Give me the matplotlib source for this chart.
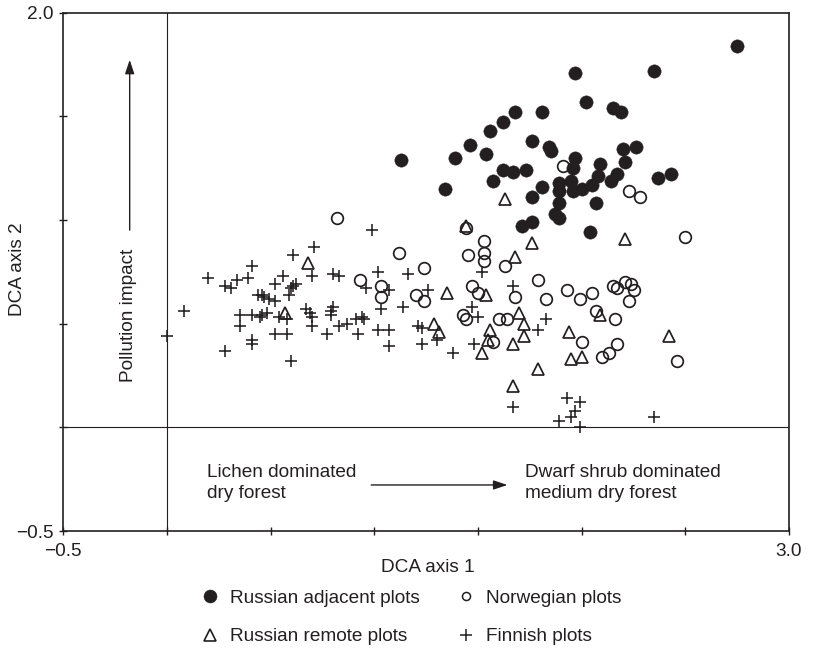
import matplotlib
matplotlib.use("Agg")
import matplotlib.pyplot as plt
from matplotlib.lines import Line2D

plt.rcParams['font.family'] = ['Liberation Sans', 'DejaVu Sans']
plt.rcParams['font.size'] = 13.7

# ---------------- data (DCA scores) ----------------
adj_x = [2.75, 1.97, 2.35, 2.02, 2.15, 2.19, 1.68, 1.81, 1.62, 1.56,
         1.46, 1.76, 1.84, 1.85, 1.54, 1.39, 1.13, 2.20, 2.26, 2.21,
         2.09, 1.97, 1.96, 1.62, 1.67, 1.73, 1.57, 1.34, 1.81, 1.89,
         1.89, 1.95, 1.96, 2.00, 2.05, 2.08, 2.14, 2.17, 2.37, 2.43,
         1.76, 1.89, 2.07, 1.87, 1.89, 1.76, 1.71, 2.04]
adj_y = [1.84, 1.71, 1.72, 1.57, 1.54, 1.52, 1.52, 1.52, 1.47, 1.43,
         1.36, 1.38, 1.35, 1.33, 1.32, 1.30, 1.29, 1.34, 1.35, 1.28,
         1.27, 1.30, 1.25, 1.24, 1.23, 1.24, 1.19, 1.15, 1.16, 1.18,
         1.14, 1.19, 1.14, 1.15, 1.17, 1.21, 1.19, 1.22, 1.20, 1.22,
         1.11, 1.08, 1.08, 1.03, 1.01, 0.99, 0.97, 0.94]

nor_x = [0.82, 1.12, 0.93, 1.03, 1.03, 1.24, 1.20, 1.24, 1.44, 1.53,
         1.53, 1.53, 1.45, 1.63, 1.79, 1.47, 1.50, 1.68, 1.43, 1.44,
         1.60, 1.64, 1.57, 1.83, 1.93, 1.99, 2.05, 2.15, 2.17, 2.21,
         2.24, 2.25, 2.23, 2.07, 2.16, 2.00, 2.10, 2.13, 2.17, 2.46,
         2.50, 2.23, 2.28, 1.91]
nor_y = [1.01, 0.84, 0.71, 0.68, 0.63, 0.77, 0.64, 0.61, 0.96, 0.90,
         0.84, 0.80, 0.83, 0.78, 0.71, 0.68, 0.65, 0.63, 0.54, 0.52,
         0.52, 0.52, 0.41, 0.62, 0.66, 0.62, 0.65, 0.68, 0.67, 0.70,
         0.69, 0.66, 0.61, 0.56, 0.52, 0.41, 0.34, 0.36, 0.40, 0.32,
         0.92, 1.14, 1.11, 1.26]

rem_x = [0.68, 0.57, 1.44, 1.63, 1.76, 1.68, 2.21, 1.35, 1.54, 1.29,
         1.31, 1.70, 1.72, 1.56, 1.72, 1.67, 1.55, 1.52, 1.79, 2.09,
         1.94, 1.95, 2.00, 2.42, 1.67]
rem_y = [0.79, 0.55, 0.97, 1.10, 0.89, 0.82, 0.91, 0.65, 0.64, 0.50,
         0.46, 0.55, 0.50, 0.47, 0.44, 0.40, 0.42, 0.36, 0.28, 0.54,
         0.46, 0.33, 0.34, 0.44, 0.20]

fin_x = [0.00, 0.08, 0.20, 0.28, 0.31, 0.34, 0.39, 0.41, 0.35, 0.35,
         0.41, 0.45, 0.46, 0.48, 0.44, 0.46, 0.47, 0.49, 0.41, 0.41,
         0.28, 0.52, 0.56, 0.52, 0.52, 0.58, 0.61, 0.71, 0.70, 0.60,
         0.61, 0.62, 0.59, 0.54, 0.58, 0.60, 0.67, 0.69, 0.70, 0.70,
         0.80, 0.83, 0.80, 0.79, 0.79, 0.77, 0.83, 0.87, 0.91, 0.92,
         0.99, 1.02, 1.16, 0.96, 1.07, 1.03, 1.14, 1.26, 0.94, 0.95,
         1.02, 1.07, 1.07, 1.21, 1.23, 1.23, 1.30, 1.38, 1.48, 1.47,
         1.50, 1.52, 1.67, 1.83, 1.79, 1.67, 1.93, 1.99, 1.97, 1.95,
         1.89, 1.99, 2.35]
fin_y = [0.44, 0.56, 0.72, 0.68, 0.67, 0.71, 0.72, 0.78, 0.54, 0.49,
         0.54, 0.53, 0.54, 0.55, 0.64, 0.64, 0.63, 0.62, 0.42, 0.40,
         0.37, 0.69, 0.73, 0.61, 0.45, 0.45, 0.83, 0.87, 0.73, 0.67,
         0.68, 0.69, 0.64, 0.53, 0.52, 0.32, 0.57, 0.55, 0.53, 0.49,
         0.74, 0.73, 0.58, 0.56, 0.54, 0.45, 0.49, 0.50, 0.52, 0.45,
         0.95, 0.75, 0.74, 0.67, 0.66, 0.57, 0.58, 0.66, 0.53, 0.52,
         0.47, 0.47, 0.39, 0.49, 0.48, 0.40, 0.42, 0.36, 0.40, 0.58,
         0.53, 0.75, 0.68, 0.52, 0.47, 0.10, 0.14, 0.12, 0.08, 0.05,
         0.03, 0.00, 0.05]

series_labels = ["Russian adjacent plots", "Russian remote plots",
                 "Norwegian plots", "Finnish plots"]
xticks = [-0.5, 0.0, 0.5, 1.0, 1.5, 2.0, 2.5, 3.0]
xtick_labels = ["\u22120.5", "", "", "", "", "", "", "3.0"]
yticks = [-0.5, 0.0, 0.5, 1.0, 1.5, 2.0]
ytick_labels = ["\u22120.5", "", "", "", "", "2.0"]

# ---------------- figure ----------------
C = '#231f20'
fig = plt.figure(figsize=(8.13, 6.49), dpi=100)
ax = fig.add_axes([0.0779, 0.1818, 0.8926, 0.7989])
ax.set_xlim(-0.5, 3.0)
ax.set_ylim(-0.5, 2.0)

ax.axvline(0, color=C, lw=0.8, zorder=1)
ax.axhline(0, color=C, lw=0.8, zorder=1)

ax.plot(fin_x, fin_y, linestyle='none', marker='+', ms=8.8, mew=1.15,
        color=C, zorder=3)
ax.plot(rem_x, rem_y, linestyle='none', marker='^', ms=8.8, mew=1.25,
        mfc='none', mec=C, zorder=3)
ax.plot(nor_x, nor_y, linestyle='none', marker='o', ms=8.4, mew=1.25,
        mfc='none', mec=C, zorder=3)
ax.plot(adj_x, adj_y, linestyle='none', marker='o', ms=9.6, mew=0.3,
        mfc=C, mec=C, zorder=4)

for s in ax.spines.values():
    s.set_linewidth(1.2)
    s.set_color(C)

ax.set_xticks(xticks)
ax.set_xticklabels(xtick_labels)
ax.set_yticks(yticks)
ax.set_yticklabels(ytick_labels)
ax.tick_params(axis='both', direction='inout', length=5.8, width=1.0,
               colors=C, labelsize=13.7)
ax.tick_params(axis='x', pad=5.8)
ax.tick_params(axis='y', pad=4.3)

# axis labels
fig.text(427.5 / 813, 1 - 568 / 649, "DCA axis 1", ha='center', va='center',
         color=C, fontsize=13.7)
fig.text(18 / 813, 1 - 269 / 649, "DCA axis 2", ha='center', va='center',
         rotation=90, color=C, fontsize=13.7)

# annotations inside the plot
ax.text(-0.184, 0.539, "Pollution impact", rotation=90, ha='center',
        va='center', color=C, fontsize=13.7)
ax.annotate('', xy=(-0.18, 1.772), xytext=(-0.18, 0.951),
            arrowprops=dict(arrowstyle='-|>,head_length=0.6,head_width=0.2',
                            color=C, lw=1.0, mutation_scale=14,
                            shrinkA=0, shrinkB=0))
ax.text(0.194, -0.268, "Lichen dominated\ndry forest", ha='left',
        va='center', color=C, fontsize=13.7, linespacing=1.35)
ax.text(1.728, -0.268, "Dwarf shrub dominated\nmedium dry forest", ha='left',
        va='center', color=C, fontsize=13.7, linespacing=1.35)
ax.annotate('', xy=(1.642, -0.278), xytext=(0.985, -0.278),
            arrowprops=dict(arrowstyle='-|>,head_length=0.6,head_width=0.2',
                            color=C, lw=1.0, mutation_scale=14,
                            shrinkA=0, shrinkB=0))

# legend
handles = [
    Line2D([], [], linestyle='none', marker='o', ms=9.4, mfc=C, mec=C, mew=0.3),
    Line2D([], [], linestyle='none', marker='^', ms=8.4, mfc='none', mec=C, mew=1.2),
    Line2D([], [], linestyle='none', marker='o', ms=5.8, mfc='none', mec=C, mew=1.1),
    Line2D([], [], linestyle='none', marker='+', ms=8.8, color=C, mew=1.1),
]
leg = fig.legend(handles, series_labels, ncol=2, frameon=False,
                 loc='center left', bbox_to_anchor=(200.5 / 813, 1 - 617.5 / 649),
                 borderpad=0, borderaxespad=0, handlelength=1.0,
                 handletextpad=0.55, columnspacing=1.92, labelspacing=1.1,
                 fontsize=13.7)
for t in leg.get_texts():
    t.set_color(C)

fig.savefig("out.png", dpi=100)
